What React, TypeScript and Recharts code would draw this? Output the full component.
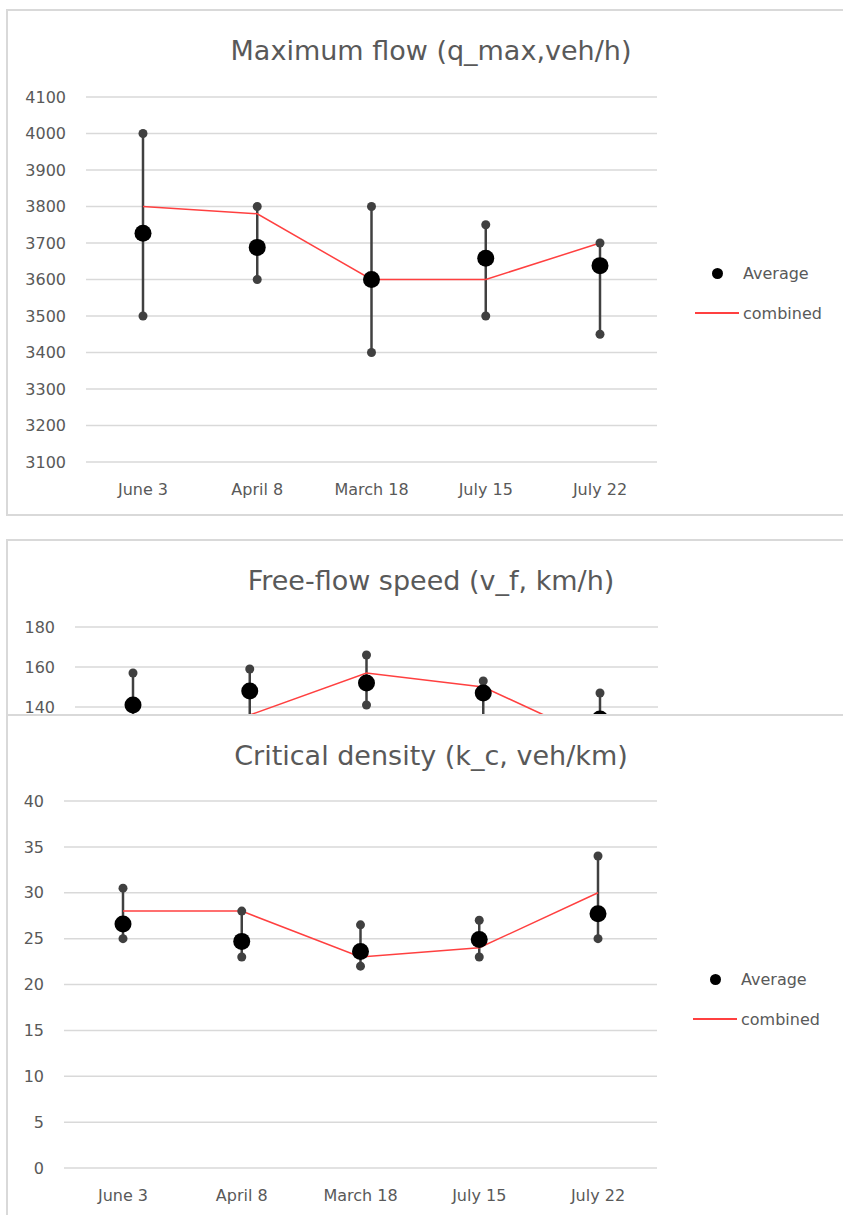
import { CartesianGrid, ComposedChart, ErrorBar, Legend, Line, XAxis, YAxis } from "recharts";

const categories = ["June 3", "April 8", "March 18", "July 15", "July 22"];

// maximum flow, veh/h
const flowAverage = [3727, 3688, 3600, 3658, 3638];
const flowLow = [3500, 3600, 3400, 3500, 3450];
const flowHigh = [4000, 3800, 3800, 3750, 3700];
const flowCombined = [3800, 3780, 3600, 3600, 3700];
const flowTicks = [3100, 3200, 3300, 3400, 3500, 3600, 3700, 3800, 3900, 4000, 4100];

// free-flow speed, km/h (lower part is hidden under the next chart)
const speedAverage = [141, 148, 152, 147, 134];
const speedLow = [125, 132, 141, 132, 126];
const speedHigh = [157, 159, 166, 153, 147];
const speedCombined = [130, 136, 157, 150, 123];
const speedTicks = [140, 160, 180];

// critical density, veh/km
const densityAverage = [26.6, 24.7, 23.6, 24.9, 27.7];
const densityLow = [25, 23, 22, 23, 25];
const densityHigh = [30.5, 28, 26.5, 27, 34];
const densityCombined = [28, 28, 23, 24, 30];
const densityTicks = [0, 5, 10, 15, 20, 25, 30, 35, 40];

const FONT = "'DejaVu Sans', sans-serif";
const TEXT = "#595959";
const GRID = "#d9d9d9";
const WHISKER = "#404040";
const RED = "#ff4040";

type Row = {
  name: string;
  avg: number;
  low: number;
  high: number;
  combined: number;
  err: [number, number];
};

function makeRows(avg: number[], low: number[], high: number[], combined: number[]): Row[] {
  return categories.map((name, i) => ({
    name,
    avg: avg[i],
    low: low[i],
    high: high[i],
    combined: combined[i],
    err: [avg[i] - low[i], high[i] - avg[i]],
  }));
}

function LegendBox() {
  const row: React.CSSProperties = { display: "flex", alignItems: "center", height: 40 };
  const icon: React.CSSProperties = { width: 44, display: "flex", justifyContent: "center", alignItems: "center" };
  const label: React.CSSProperties = { marginLeft: 4, fontSize: 16, color: TEXT, fontFamily: FONT };
  return (
    <div>
      <div style={row}>
        <div style={icon}>
          <div style={{ width: 11, height: 11, borderRadius: "50%", background: "#000" }} />
        </div>
        <span style={label}>Average</span>
      </div>
      <div style={row}>
        <div style={icon}>
          <div style={{ width: 44, height: 1.5, background: RED }} />
        </div>
        <span style={label}>combined</span>
      </div>
    </div>
  );
}

type PanelProps = {
  title: string;
  rows: Row[];
  ticks: number[];
  domain: [number, number];
  top: number;
  boxHeight: number;
  chartHeight: number;
  margin: { top: number; right: number; bottom: number; left: number };
  yWidth: number;
  xPad: number;
  legendLeft: number;
  legendTop: number;
  showLegend?: boolean;
};

function Panel({
  title,
  rows,
  ticks,
  domain,
  top,
  boxHeight,
  chartHeight,
  margin,
  yWidth,
  xPad,
  legendLeft,
  legendTop,
  showLegend = true,
}: PanelProps) {
  const tick = { fontSize: 16, fill: TEXT, fontFamily: FONT };
  return (
    <div
      style={{
        position: "absolute",
        left: 6,
        top,
        width: 900,
        height: boxHeight,
        boxSizing: "border-box",
        border: `2px solid ${GRID}`,
        background: "#fff",
        overflow: "hidden",
      }}
    >
      <div
        style={{
          position: "absolute",
          left: 123,
          top: 26,
          width: 600,
          textAlign: "center",
          fontFamily: FONT,
          fontSize: 27,
          lineHeight: "27px",
          color: TEXT,
          whiteSpace: "nowrap",
        }}
      >
        {title}
      </div>
      <div style={{ position: "absolute", left: 0, top: 0 }}>
        <ComposedChart width={835} height={chartHeight} data={rows} margin={margin}>
          <CartesianGrid vertical={false} stroke={GRID} strokeWidth={1.5} />
          <XAxis
            dataKey="name"
            axisLine={false}
            tickLine={false}
            tickSize={0}
            tickMargin={22}
            height={40}
            interval={0}
            padding={{ left: xPad, right: xPad }}
            tick={tick}
          />
          <YAxis
            type="number"
            domain={domain}
            ticks={ticks}
            interval={0}
            width={yWidth}
            axisLine={false}
            tickLine={false}
            tickSize={0}
            tickMargin={20}
            tick={tick}
          />
          <Line dataKey="avg" stroke="none" dot={false} activeDot={false} isAnimationActive={false} legendType="none">
            <ErrorBar dataKey="err" direction="y" width={0} stroke={WHISKER} strokeWidth={2.5} isAnimationActive={false} />
          </Line>
          <Line
            dataKey="combined"
            stroke={RED}
            strokeWidth={1.5}
            dot={false}
            activeDot={false}
            isAnimationActive={false}
          />
          <Line
            dataKey="low"
            stroke="none"
            dot={{ r: 4.5, fill: WHISKER, stroke: "none" }}
            activeDot={false}
            isAnimationActive={false}
            legendType="none"
          />
          <Line
            dataKey="high"
            stroke="none"
            dot={{ r: 4.5, fill: WHISKER, stroke: "none" }}
            activeDot={false}
            isAnimationActive={false}
            legendType="none"
          />
          <Line
            dataKey="avg"
            stroke="none"
            dot={{ r: 8.5, fill: "#000", stroke: "none" }}
            activeDot={false}
            isAnimationActive={false}
          />
          {showLegend && (
            <Legend
              layout="horizontal"
              align="center"
              verticalAlign="middle"
              wrapperStyle={{ left: legendLeft, top: legendTop, width: 160, height: 80 }}
              content={() => <LegendBox />}
            />
          )}
        </ComposedChart>
      </div>
    </div>
  );
}

export default function App() {
  return (
    <div
      style={{
        position: "absolute",
        left: 0,
        top: 0,
        width: 843,
        height: 1215,
        overflow: "hidden",
        background: "#fff",
      }}
    >
      <Panel
        title="Maximum flow (q_max,veh/h)"
        rows={makeRows(flowAverage, flowLow, flowHigh, flowCombined)}
        ticks={flowTicks}
        domain={[3100, 4100]}
        top={9}
        boxHeight={507}
        chartHeight={491}
        margin={{ top: 86, right: 186, bottom: 0, left: 18 }}
        yWidth={60}
        xPad={57}
        legendLeft={687}
        legendTop={242}
      />
      {/* this chart is partly covered by the one below, as in the original layout */}
      <Panel
        title="Free-flow speed (v_f, km/h)"
        rows={makeRows(speedAverage, speedLow, speedHigh, speedCombined)}
        ticks={speedTicks}
        domain={[100, 180]}
        top={539}
        boxHeight={300}
        chartHeight={286}
        margin={{ top: 86, right: 185, bottom: 0, left: 17 }}
        yWidth={50}
        xPad={58}
        legendLeft={687}
        legendTop={259}
        showLegend={false}
      />
      <Panel
        title="Critical density (k_c, veh/km)"
        rows={makeRows(densityAverage, densityLow, densityHigh, densityCombined)}
        ticks={densityTicks}
        domain={[0, 40]}
        top={714}
        boxHeight={520}
        chartHeight={492}
        margin={{ top: 85, right: 186, bottom: 0, left: 16 }}
        yWidth={40}
        xPad={59}
        legendLeft={685}
        legendTop={243}
      />
    </div>
  );
}
